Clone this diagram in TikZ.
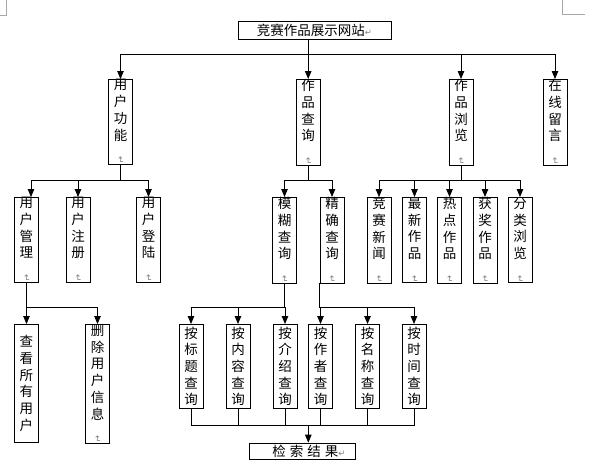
\documentclass[tikz,border=0pt]{standalone}
\usepackage{fontspec}
\usepackage{xcolor}
\usepackage{tikz}
\usetikzlibrary{arrows.meta,positioning,calc}
\newfontfamily\cjk{Noto Sans CJK SC}
\newfontfamily\symfont{DejaVu Sans}
\newcommand{\parmark}{{\color{gray}\symfont\fontsize{8.5}{9}\selectfont ↵}}
\newcommand{\vmark}{{\color{gray}\symfont\fontsize{9}{9}\selectfont\rotatebox{-90}{↵}}}

\begin{document}
\begin{tikzpicture}[
  x=1pt, y=-1pt,
  font=\cjk\fontsize{13.5}{16.7}\selectfont,
  box/.style={draw, line width=0.8pt, inner sep=0pt, align=center, anchor=north},
  vbox/.style={box, minimum width=24pt, text width=14pt},
  arrow/.style={-{Triangle[width=6.5pt,length=8pt]}, line width=0.8pt},
  link/.style={line width=0.8pt},
  crop/.style={gray!70, line width=0.8pt}
]
\useasboundingbox (0,0) rectangle (599,467);

% Page corners
\draw[crop] (6,0) -- (6,15) -- (0,15);
\draw[crop] (562,0) -- (562,14) -- (585,14);

% Nodes
\node[box, minimum width=153pt, minimum height=18pt] (site) at (314.5,20.5)
  {竞赛作品展示网站\parmark};

\node[vbox, minimum height=85pt] (user)   at (120.5,79) {用\\户\\功\\能\\\vmark};
\node[vbox, minimum height=84pt] (query)  at (308.2,79) {作\\品\\查\\询\\\vmark};
\node[vbox, minimum height=85pt] (browse) at (461,79)   {作\\品\\浏\\览\\\vmark};
\node[vbox, minimum height=85pt] (msg)    at (555,79)   {在\\线\\留\\言\\\vmark};

\node[vbox, minimum height=84.5pt] (umgr)   at (26.5,197)  {用\\户\\管\\理\\\vmark};
\node[vbox, minimum height=84.5pt] (ureg)   at (78,197)    {用\\户\\注\\册\\\vmark};
\node[vbox, minimum height=84.5pt] (ulog)   at (148.5,197) {用\\户\\登\\陆\\\vmark};
\node[vbox, minimum height=84.5pt] (fuzzy)  at (284.5,197) {模\\糊\\查\\询\\\vmark};
\node[vbox, minimum height=84.5pt] (exact)  at (332,197)   {精\\确\\查\\询\\\vmark};
\node[vbox, minimum height=84.5pt] (news)   at (379,197)   {竞\\赛\\新\\闻\\\vmark};
\node[vbox, minimum height=84.5pt] (newest) at (414.5,197) {最\\新\\作\\品\\\vmark};
\node[vbox, minimum height=84.5pt] (hot)    at (449.5,197) {热\\点\\作\\品\\\vmark};
\node[vbox, minimum height=84.5pt] (award)  at (485,197)   {获\\奖\\作\\品\\\vmark};
\node[vbox, minimum height=84.5pt] (cat)    at (520,197)   {分\\类\\浏\\览\\\vmark};

\node[vbox, minimum height=118pt] (viewall) at (26.5,324) {查\\看\\所\\有\\用\\户};
\node[vbox, minimum height=118pt] (deluser) at (97.5,324) {删\\除\\用\\户\\信\\息\\\vmark};

\node[vbox, minimum height=84pt] (qtitle)  at (191,324)   {按\\标\\题\\查\\询};
\node[vbox, minimum height=84pt] (qtext)   at (238,324)   {按\\内\\容\\查\\询};
\node[vbox, minimum height=84pt] (qintro)  at (285,324)   {按\\介\\绍\\查\\询};
\node[vbox, minimum height=84pt] (qauthor) at (320.5,324) {按\\作\\者\\查\\询};
\node[vbox, minimum height=84pt] (qname)   at (367.5,324) {按\\名\\称\\查\\询};
\node[vbox, minimum height=84pt] (qtime)   at (414,324)   {按\\时\\间\\查\\询};

\node[box, minimum width=106pt, minimum height=16.7pt] (result) at (302,442.7)
  {\hspace{14pt}检\hspace{4pt}索\hspace{4pt}结\hspace{4pt}果\parmark};

% Bar levels
\coordinate (bar1) at (0,54);
\coordinate (bar2) at (0,180);
\coordinate (bar3) at (0,307);
\coordinate (bar4) at (0,425);

% Site -> first level
\draw[arrow] (site.south -| query.north) -- (query.north);
\draw[link] (user.north |- bar1) -- (msg.north |- bar1);
\draw[arrow] (user.north |- bar1) -- (user.north);
\draw[arrow] (browse.north |- bar1) -- (browse.north);
\draw[arrow] (msg.north |- bar1) -- (msg.north);

% User functions
\draw[link] (user.south) -- (user.south |- bar2);
\draw[link] ($(umgr.north |- bar2)+(4.5,0)$) -- (ulog.north |- bar2);
\draw[arrow] ($(umgr.north |- bar2)+(4.5,0)$) -- ($(umgr.north)+(4.5,0)$);
\draw[arrow] (ureg.north |- bar2) -- (ureg.north);
\draw[arrow] (ulog.north |- bar2) -- (ulog.north);

\draw[link] (umgr.south) -- (umgr.south |- bar3) -- (deluser.north |- bar3);
\draw[arrow] (viewall.north |- bar3) -- (viewall.north);
\draw[arrow] (deluser.north |- bar3) -- (deluser.north);

% Query
\draw[link] (query.south) -- (query.south |- bar2);
\draw[link] (fuzzy.north |- bar2) -- (exact.north |- bar2);
\draw[arrow] (fuzzy.north |- bar2) -- (fuzzy.north);
\draw[arrow] (exact.north |- bar2) -- (exact.north);

\draw[link] (fuzzy.south) -- (fuzzy.south |- bar3) -- (qtitle.north |- bar3);
\draw[arrow] (qtitle.north |- bar3) -- (qtitle.north);
\draw[arrow] (qtext.north |- bar3) -- (qtext.north);
\draw[arrow] (qintro.north |- bar3) -- (qintro.north);

\draw[link] (exact.south west) -- (exact.south west |- bar3) -- (qtime.north |- bar3);
\draw[arrow] (qauthor.north |- bar3) -- (qauthor.north);
\draw[arrow] (qname.north |- bar3) -- (qname.north);
\draw[arrow] (qtime.north |- bar3) -- (qtime.north);

% Browse
\draw[link] (browse.south) -- (browse.south |- bar2);
\draw[link] (news.north |- bar2) -- (cat.north |- bar2);
\draw[arrow] (news.north |- bar2) -- (news.north);
\draw[arrow] (newest.north |- bar2) -- (newest.north);
\draw[arrow] (hot.north |- bar2) -- (hot.north);
\draw[arrow] (award.north |- bar2) -- (award.north);
\draw[arrow] (cat.north |- bar2) -- (cat.north);

% Results
\draw[link] (qtitle.south) -- (qtitle.south |- bar4) -- (qtime.south |- bar4) -- (qtime.south);
\draw[link] (qtext.south) -- (qtext.south |- bar4);
\draw[link] (qintro.south) -- (qintro.south |- bar4);
\draw[link] (qauthor.south) -- (qauthor.south |- bar4);
\draw[link] (qname.south) -- (qname.south |- bar4);
\draw[arrow] ($(result.north |- bar4)+(6.3,0)$) -- ($(result.north)+(6.3,0)$);

\end{tikzpicture}
\end{document}
